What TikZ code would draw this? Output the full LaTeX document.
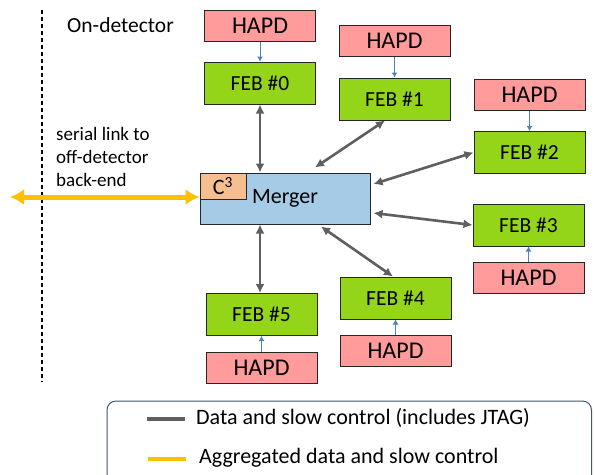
\documentclass[tikz,border=0pt]{standalone}
\usepackage{fontspec}
\setmainfont{Carlito}
\usetikzlibrary{arrows.meta}
\definecolor{hapdc}{HTML}{FF9B9B}
\definecolor{febc}{HTML}{94D51A}
\definecolor{mergc}{HTML}{A5CBE6}
\definecolor{c3c}{HTML}{F7BF90}
\definecolor{grayc}{HTML}{5F5F5F}
\definecolor{yelc}{HTML}{FFC000}
\definecolor{bluec}{HTML}{4F81BD}
\definecolor{legc}{HTML}{44546A}
\definecolor{bordc}{HTML}{262626}
\tikzset{
  box/.style={draw=bordc, line width=1pt, minimum width=111pt, inner sep=0pt},
  hapd/.style={box, fill=hapdc, minimum height=31pt, font=\fontsize{24}{28}\selectfont},
  feb/.style={box, fill=febc, minimum height=42pt, font=\fontsize{21.5}{26}\selectfont},
  link/.style={draw=grayc, line width=2.6pt, {Latex[length=9pt,width=9pt]}-{Latex[length=9pt,width=9pt]}},
  feed/.style={draw=bluec, line width=1pt, -{Latex[length=5pt,width=6pt]}},
  agg/.style={draw=yelc, line width=5pt, {Latex[length=14pt,width=16pt]}-{Latex[length=14pt,width=16pt]}},
  txt/.style={inner sep=0pt, text=black}
}
\begin{document}
\begin{tikzpicture}[x=1pt,y=-1pt]
\useasboundingbox (0,0) rectangle (594,474);
\clip (0,0) rectangle (594,474);
\fill[white] (0,0) rectangle (594,474);

% dashed boundary
\coordinate (dt) at (42,10);
\coordinate (db) at (42,382);
\draw[black, line width=1.2pt, dash pattern=on 4pt off 3pt] (dt) -- (db);

\node[txt, anchor=west, font=\fontsize{21.5}{26}\selectfont] (ondet) at (67,25) {On-detector};
\node[txt, anchor=west, align=left, font=\fontsize{19}{23}\selectfont] (serial) at (56,157) {serial link to\\off-detector\\back-end};

% nodes
\node[hapd] (h0) at (260,25.5) {HAPD};
\node[feb]  (f0) at (260,83) {FEB \#0};
\node[hapd] (h1) at (394.5,40.5) {HAPD};
\node[feb]  (f1) at (394.5,99) {FEB \#1};
\node[hapd] (h2) at (529.5,94.5) {HAPD};
\node[feb]  (f2) at (529.5,152.5) {FEB \#2};
\node[feb]  (f3) at (528.5,225) {FEB \#3};
\node[hapd] (h3) at (528.5,278) {HAPD};
\node[feb]  (f4) at (395.5,298) {FEB \#4};
\node[hapd] (h4) at (395.5,351) {HAPD};
\node[feb]  (f5) at (261.5,314.5) {FEB \#5};
\node[hapd] (h5) at (261.5,367.5) {HAPD};

\node[draw=bordc, line width=1pt, fill=mergc, minimum width=170pt, minimum height=51pt, inner sep=0pt, font=\fontsize{22}{26}\selectfont] (m) at (285,198.5) {Merger};
\node[draw=bordc, line width=1pt, fill=c3c, minimum width=46pt, minimum height=26pt, inner sep=0pt, anchor=north west, font=\fontsize{22}{26}\selectfont] (c3) at (m.north west) {C\textsuperscript{3}};

% HAPD -> FEB
\draw[feed] (h0.south) -- (f0.north);
\draw[feed] (h1.south) -- (f1.north);
\draw[feed] (h2.south) -- (f2.north);
\draw[feed] (h3.north) -- (f3.south);
\draw[feed] (h4.north) -- (f4.south);
\draw[feed] (h5.north) -- (f5.south);

% FEB <-> Merger
\draw[link] (f0.south) -- (f0.south |- m.north);
\draw[link] ([xshift=-9.5pt]f1.south) -- ([xshift=30pt,yshift=5pt]m.north);
\draw[link] (f2.west) -- ([xshift=3pt,yshift=14.5pt]m.east);
\draw[link] ([xshift=3pt,yshift=-14.5pt]m.east) -- (f3.west);
\draw[link] ([xshift=36pt,yshift=-2pt]m.south) -- ([xshift=-2.5pt]f4.north);
\draw[link] ([xshift=-25pt]m.south) -- ([xshift=-1.5pt]f5.north);

% aggregated link
\coordinate (yl) at (10,197);
\draw[agg] (yl) -- ([yshift=1.5pt]m.west);

% legend
\draw[legc, line width=1pt, rounded corners=9pt] (107,401) rectangle (591.5,495);
\coordinate (l1a) at (147,419);
\coordinate (l1b) at (185,419);
\coordinate (l2a) at (148,459);
\coordinate (l2b) at (186,459);
\draw[grayc, line width=4pt] (l1a) -- (l1b);
\draw[yelc, line width=4pt] (l2a) -- (l2b);
\node[txt, anchor=west, font=\fontsize{22}{26}\selectfont] (leg1) at (196,418) {Data and slow control (includes JTAG)};
\node[txt, anchor=west, font=\fontsize{22}{26}\selectfont] (leg2) at (199,458) {Aggregated data and slow control};
\end{tikzpicture}
\end{document}
